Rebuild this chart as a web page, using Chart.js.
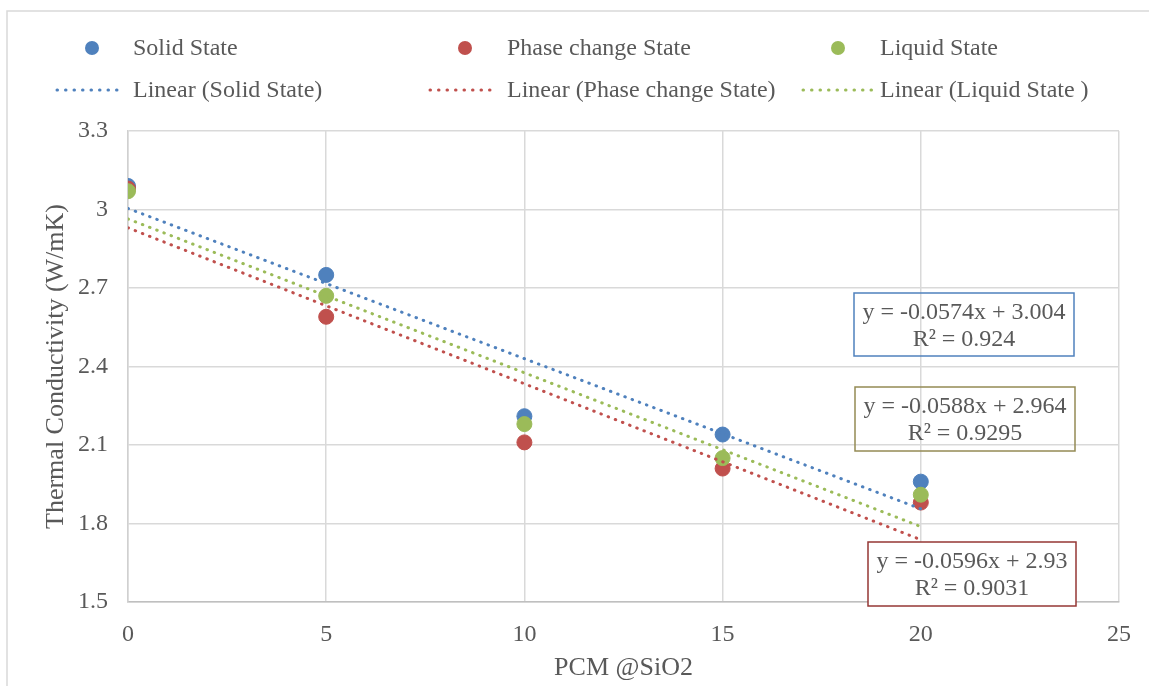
<!DOCTYPE html>
<html>
<head>
<meta charset="utf-8">
<script src="https://cdn.jsdelivr.net/npm/chart.js@4/dist/chart.umd.min.js"></script>
<style>
  body { margin: 0; background: #fff; }
  #wrap { width: 1149px; height: 686px; }
</style>
</head>
<body>
<div id="wrap"><canvas id="tcChart" width="1149" height="686"></canvas></div>
<script>
// PCM content (x) and measured conductivity per state
const xValues = [0, 5, 10, 15, 20];
const solidState = [3.09, 2.75, 2.21, 2.14, 1.96];
const phaseChangeState = [3.08, 2.59, 2.11, 2.01, 1.88];
const liquidState = [3.07, 2.67, 2.18, 2.05, 1.91];

// Trend line ends (x = 0 and x = 20)
const trendX = [0, 20];
const solidTrend = [3.004, 1.856];
const phaseTrend = [2.93, 1.738];
const liquidTrend = [2.964, 1.788];

const seriesNames = ['Solid State', 'Phase change State', 'Liquid State'];
const trendNames = ['Linear (Solid State)', 'Linear (Phase change State)', 'Linear (Liquid State )'];
const equations = ['y = -0.0574x + 3.004', 'y = -0.0588x + 2.964', 'y = -0.0596x + 2.93'];
const rSquared = ['R² = 0.924', 'R² = 0.9295', 'R² = 0.9031'];

const blue = '#4f81bd';
const red = '#c0504d';
const green = '#9bbb59';
const textColor = '#595959';
const fontFamily = '"Liberation Serif", "Times New Roman", serif';

const toPoints = (xs, ys) => xs.map((x, i) => ({ x: x, y: ys[i] }));

function markerSet(label, ys, color, order) {
    return {
        label: label,
        data: toPoints(xValues, ys),
        backgroundColor: color,
        borderColor: color,
        pointRadius: 7.5,
        pointHoverRadius: 7.5,
        showLine: false,
        order: order
    };
}

function trendSet(label, ys, color, order) {
    return {
        label: label,
        data: toPoints(trendX, ys),
        borderColor: color,
        borderWidth: 3,
        borderDash: [0.5, 7.2],
        borderCapStyle: 'round',
        pointRadius: 0,
        showLine: true,
        fill: false,
        order: order
    };
}

// legend + equation boxes, drawn by hand to follow the Excel layout
const overlay = {
    id: 'overlay',
    beforeDraw(chart) {
        const ctx = chart.ctx;
        ctx.save();
        ctx.fillStyle = '#fff';
        ctx.fillRect(0, 0, chart.width, chart.height);
        ctx.strokeStyle = '#d9d9d9';
        ctx.lineWidth = 1.5;
        ctx.strokeRect(7, 11, chart.width + 20, chart.height + 20);
        ctx.restore();
    },
    afterDraw(chart) {
        const ctx = chart.ctx;
        const colors = [blue, red, green];
        const markerX = [92, 465, 838];
        const textX = [133, 507, 880];
        const lineX = [[57, 125], [430, 498], [803, 872]];

        ctx.save();
        ctx.font = '24px ' + fontFamily;
        ctx.textBaseline = 'middle';
        ctx.textAlign = 'left';

        for (let i = 0; i < 3; i++) {
            ctx.fillStyle = colors[i];
            ctx.beginPath();
            ctx.arc(markerX[i], 48, 7, 0, Math.PI * 2);
            ctx.fill();
            ctx.fillStyle = textColor;
            ctx.fillText(seriesNames[i], textX[i], 49);

            ctx.strokeStyle = colors[i];
            ctx.lineWidth = 3;
            ctx.lineCap = 'round';
            ctx.setLineDash([0.5, 8]);
            ctx.beginPath();
            ctx.moveTo(lineX[i][0], 90);
            ctx.lineTo(lineX[i][1], 90);
            ctx.stroke();
            ctx.setLineDash([]);
            ctx.fillStyle = textColor;
            ctx.fillText(trendNames[i], textX[i], 91);
        }

        // equation boxes: [left, top, width, height, border, filled]
        const boxes = [
            [854, 293, 220, 63, blue, false],
            [855, 387, 220, 64, '#948a54', false],
            [868, 542, 208, 64, '#953735', true]
        ];
        ctx.textAlign = 'center';
        boxes.forEach((b, i) => {
            if (b[5]) {
                ctx.fillStyle = '#fff';
                ctx.fillRect(b[0], b[1], b[2], b[3]);
            }
            ctx.strokeStyle = b[4];
            ctx.lineWidth = 1.5;
            ctx.strokeRect(b[0], b[1], b[2], b[3]);
            ctx.fillStyle = textColor;
            const cx = b[0] + b[2] / 2;
            ctx.fillText(equations[i], cx, b[1] + 20);
            ctx.fillText(rSquared[i], cx, b[1] + 47);
        });
        ctx.restore();
    }
};

const ctx = document.getElementById('tcChart').getContext('2d');
const chart = new Chart(ctx, {
    type: 'scatter',
    data: {
        datasets: [
            trendSet(trendNames[0], solidTrend, blue, 1),
            trendSet(trendNames[1], phaseTrend, red, 2),
            trendSet(trendNames[2], liquidTrend, green, 3),
            markerSet(seriesNames[2], liquidState, green, 4),
            markerSet(seriesNames[1], phaseChangeState, red, 5),
            markerSet(seriesNames[0], solidState, blue, 6)
        ]
    },
    options: {
        responsive: false,
        animation: false,
        layout: { padding: { top: 131, right: 29, left: 0, bottom: 0 } },
        plugins: {
            legend: { display: false },
            tooltip: { enabled: false }
        },
        scales: {
            x: {
                type: 'linear',
                min: 0,
                max: 25,
                ticks: {
                    stepSize: 5,
                    padding: 18,
                    color: textColor,
                    font: { family: fontFamily, size: 24 }
                },
                grid: { color: '#d9d9d9', lineWidth: 1.5, drawTicks: false },
                border: { color: '#bfbfbf', width: 1.5 },
                title: {
                    display: true,
                    text: 'PCM @SiO2',
                    color: textColor,
                    font: { family: fontFamily, size: 26 },
                    padding: { top: 0, bottom: 2 }
                },
                afterFit(scale) { scale.height = 84; }
            },
            y: {
                min: 1.5,
                max: 3.3,
                ticks: {
                    stepSize: 0.3,
                    padding: 20,
                    color: textColor,
                    font: { family: fontFamily, size: 24 },
                    callback: value => String(Number(value.toFixed(1)))
                },
                grid: { color: '#d9d9d9', lineWidth: 1.5, drawTicks: false },
                border: { color: '#d0d0d0', width: 1.5 },
                title: {
                    display: true,
                    text: 'Thermal Conductivity (W/mK)',
                    color: textColor,
                    font: { family: fontFamily, size: 26 },
                    padding: { top: 41, bottom: 0 }
                },
                afterFit(scale) { scale.width = 128; }
            }
        }
    },
    plugins: [overlay]
});
</script>
</body>
</html>
